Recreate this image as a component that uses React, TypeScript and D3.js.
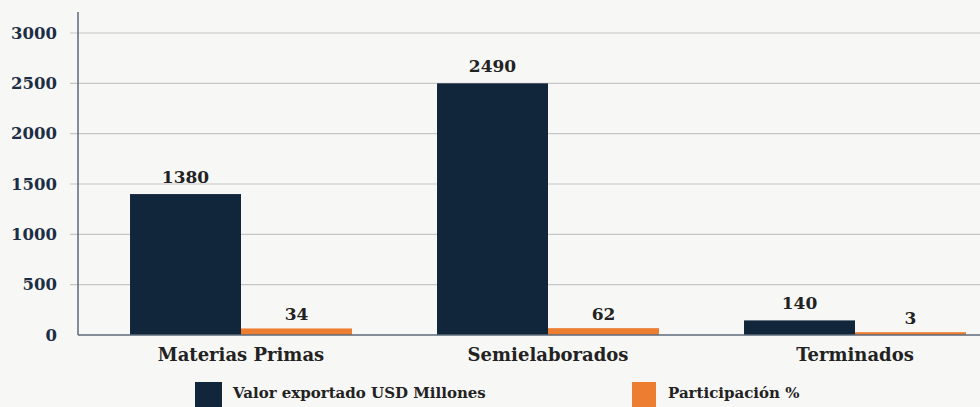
import React from "react";
import * as d3 from "d3";

const categories = ["Materias Primas", "Semielaborados", "Terminados"];
const valorBars = [1400, 2500, 145];
const valorLabels = ["1380", "2490", "140"];
const partBars = [65, 68, 28];
const partLabels = ["34", "62", "3"];
const yTicks = [0, 500, 1000, 1500, 2000, 2500, 3000];
const seriesNames = ["Valor exportado USD Millones", "Participación %"];

const W = 980;
const H = 407;
const NAVY = "#12263b";
const ORANGE = "#ed7d31";
const FONT = "'DejaVu Serif', serif";

export default function App() {
  const y = d3.scaleLinear().domain([0, 3000]).range([335, 33]);
  const x = d3
    .scaleBand<string>()
    .domain(categories)
    .range([87.5, 1008.5])
    .paddingInner(0.277)
    .paddingOuter(0.1385);
  const sub = d3
    .scaleBand<string>()
    .domain(["v", "p"])
    .range([0, x.bandwidth()]);
  const axisX = 78;

  return (
    <div style={{ position: "fixed", left: 0, top: 0 }}>
      <svg width={W} height={H} style={{ display: "block", background: "#f7f7f5" }}>
        <rect x={0} y={0} width={W} height={H} fill="#f7f7f5" />
        {yTicks.map((t) => (
          <g key={t}>
            {t > 0 && (
              <line x1={70} x2={W} y1={y(t)} y2={y(t)} stroke="#c6c6c8" strokeWidth={1.2} />
            )}
            <text
              x={57}
              y={y(t)}
              dy="0.35em"
              textAnchor="end"
              fontFamily={FONT}
              fontWeight="bold"
              fontSize={16.5}
              fill="#1c2e45"
            >
              {t}
            </text>
          </g>
        ))}
        {categories.map((c, i) => {
          const gx = x(c)!;
          const vx = gx + sub("v")!;
          const px = gx + sub("p")!;
          return (
            <g key={c}>
              <rect x={vx} y={y(valorBars[i])} width={sub.bandwidth()} height={y(0) - y(valorBars[i])} fill={NAVY} />
              <rect x={px} y={y(partBars[i])} width={sub.bandwidth()} height={y(0) - y(partBars[i])} fill={ORANGE} />
              <text
                x={vx + sub.bandwidth() / 2}
                y={y(valorBars[i]) - 11}
                textAnchor="middle"
                fontFamily={FONT}
                fontWeight="bold"
                fontSize={17}
                fill="#222"
              >
                {valorLabels[i]}
              </text>
              <text
                x={px + sub.bandwidth() / 2}
                y={y(partBars[i]) - 8}
                textAnchor="middle"
                fontFamily={FONT}
                fontWeight="bold"
                fontSize={17}
                fill="#222"
              >
                {partLabels[i]}
              </text>
              <text
                x={gx + x.bandwidth() / 2}
                y={361}
                textAnchor="middle"
                fontFamily={FONT}
                fontWeight="bold"
                fontSize={18}
                fill="#222"
              >
                {c}
              </text>
            </g>
          );
        })}
        <line x1={axisX} x2={W} y1={y(0)} y2={y(0)} stroke="#5b6a7a" strokeWidth={1.5} />
        <line x1={axisX} x2={axisX} y1={12} y2={y(0)} stroke="#5b6a7a" strokeWidth={1.5} />
        <g>
          <rect x={195} y={382} width={27} height={27} fill={NAVY} />
          <text x={233} y={398} fontFamily={FONT} fontWeight="bold" fontSize={15} fill="#222">
            {seriesNames[0]}
          </text>
          <rect x={632} y={382} width={24} height={27} fill={ORANGE} />
          <text x={668} y={398} fontFamily={FONT} fontWeight="bold" fontSize={15} fill="#222">
            {seriesNames[1]}
          </text>
        </g>
      </svg>
    </div>
  );
}
